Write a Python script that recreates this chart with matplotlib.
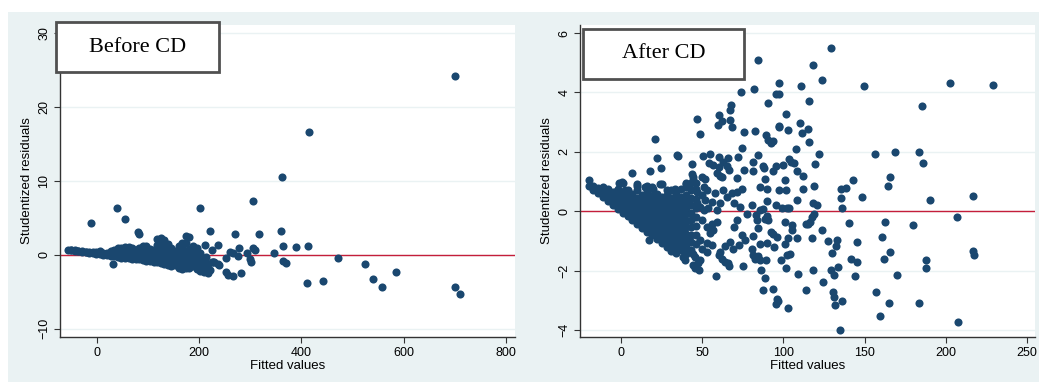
import numpy as np
import matplotlib.pyplot as plt
from matplotlib.patches import Rectangle

# *=*=* Data *=*=*
left_ticks_x = [0, 200, 400, 600, 800]
left_ticks_y = [-10, 0, 10, 20, 30]
right_ticks_x = [0, 50, 100, 150, 200, 250]
right_ticks_y = [-4, -2, 0, 2, 4, 6]

# Before CD: scattered points (fitted, studentized residual)
left_pts = [(700, 24.2), (416, 16.6), (362, 10.6), (306, 7.25), (201, 6.3), (40, 6.35), (55, 4.86),
            (-12, 4.28), (80, 3.1), (83, 2.8), (221, 3.3), (271, 2.84), (317, 2.84), (361, 3.2),
            (212, 1.4), (238, 1.35), (225, 0.72), (261, 0.45), (266, 0.23), (278, 0.9), (293, 0.22),
            (305, 0.9), (310, 0.72), (277, -0.18), (252, -0.45), (300, -0.54), (302, -0.9), (347, 0.22),
            (365, 1.17), (390, 1.13), (414, 1.2), (364, -0.77), (371, -1.08), (472, -0.4), (253, -2.34),
            (257, -2.66), (266, -2.88), (283, -2.43), (411, -3.83), (443, -3.56), (227, -1.0), (237, -1.2),
            (213, -0.3), (211, -1.0), (214, -1.9), (221, -2.1), (201, -1.45), (207, -2.1), (525, -1.2),
            (541, -3.2), (558, -4.3), (586, -2.3), (700, -4.4), (710, -5.3), (31, -1.26), (239, -1.3),
            (230, -1.0)]

# Before CD: dense band, read column by column (fitted, [residuals])
left_band = [(-57, [0.7]), (-50, [0.62, 0.7]), (-43, [0.55, 0.65]), (-36, [0.48, 0.58]),
             (-29, [0.4, 0.5]), (-22, [0.33, 0.45]), (-15, [0.27, 0.4]), (-8, [0.2, 0.4]),
             (-1, [0.13, 0.35]), (6, [0.07, 0.3, 0.5]), (13, [0.0, 0.3]), (20, [-0.05, 0.25]),
             (27, [-0.1, 0.2, 0.5]), (34, [-0.2, 0.2, 0.6]), (41, [-0.3, 0.1, 0.5, 0.9]),
             (48, [-0.35, 0.05, 0.45, 0.9]), (55, [-0.4, 0.0, 0.4, 0.8, 1.1]),
             (62, [-0.45, -0.05, 0.35, 0.75, 1.1]), (69, [-0.5, -0.1, 0.3, 0.7, 1.0]),
             (76, [-0.55, -0.15, 0.25, 0.65]), (83, [-0.6, -0.2, 0.2, 0.6, 1.0]),
             (90, [-0.7, -0.3, 0.1, 0.5, 0.9, 1.2]), (97, [-0.8, -0.4, 0.0, 0.4, 0.8, 1.2]),
             (104, [-0.85, -0.45, -0.05, 0.35, 0.75]), (111, [-0.9, -0.5, -0.1, 0.3, 0.7]),
             (118, [-1.0, -0.6, -0.2, 0.2, 0.6, 1.0, 1.4, 2.1]),
             (125, [-1.1, -0.7, -0.3, 0.1, 0.5, 0.9, 1.4, 2.3]),
             (132, [-1.2, -0.8, -0.4, 0.0, 0.4, 0.8, 1.2, 2.0]),
             (139, [-1.4, -1.0, -0.5, -0.1, 0.3, 0.7, 1.5]),
             (146, [-1.5, -1.1, -0.6, -0.2, 0.2, 0.6, 1.0]), (153, [-1.3, -0.8, -0.3, 0.1, 0.5]),
             (160, [-1.8, -1.0, -0.4, 0.0, 0.6, 1.2]), (167, [-1.9, -1.4, -0.6, 0.2, 1.0, 1.6]),
             (174, [-1.8, -1.2, -0.5, 0.4, 1.6, 2.6]), (181, [-1.7, -1.0, -0.2, 0.8, 2.4]),
             (188, [-1.5, -0.6, 0.3, 1.2]), (195, [-1.9, -1.2, -0.3, 1.0]), (202, [-2.2, -0.8, 0.2]),
             (210, [-2.3, -1.5, -0.5]), (218, [-2.4, -1.2]), (226, [-0.9])]

# After CD: scattered points
right_pts = [(129.3, 5.51), (84.5, 5.09), (118, 4.93), (124, 4.42), (97, 4.31), (110.8, 4.22), (149.8, 4.21),
             (202.6, 4.33), (229.1, 4.24), (73.6, 4.02), (82, 4.1), (95.4, 3.93), (97.2, 3.93), (116, 3.72),
             (90.6, 3.63), (67.6, 3.56), (66.8, 3.4), (185.4, 3.53), (60.2, 3.25), (101.5, 3.27), (46.6, 3.11),
             (66.8, 3.07), (61.9, 3.04), (59.8, 2.89), (68.6, 2.84), (110, 2.96), (97, 2.87), (97, 2.82),
             (115.3, 2.78), (103, 2.73), (75.8, 2.66), (82.8, 2.69), (111.4, 2.64), (48.9, 2.6), (89.2, 2.57),
             (20.8, 2.44), (90.8, 2.39), (92.3, 2.3), (93.9, 2.35), (116, 2.33), (74.4, 2.12), (107.5, 2.09),
             (121.9, 1.93), (156.2, 1.93), (168.5, 1.98), (183.7, 1.99), (186.2, 1.63), (34.7, 1.88),
             (35.3, 1.87), (22, 1.78), (50.6, 1.85), (54.5, 1.91), (72.1, 1.83), (65.9, 1.79), (84.5, 1.89),
             (60.4, 1.83), (103.2, 1.76), (81.4, 1.64), (87.5, 1.53), (88, 1.46), (99.7, 1.55), (95.5, 1.52),
             (104.5, 1.64), (106.6, 1.63), (119.2, 1.58), (43.4, 1.58), (54, 1.61), (56.5, 1.54), (62.7, 1.65),
             (60.6, 1.49), (65.1, 1.53), (66.2, 1.4), (24.9, 1.46), (59, 1.29), (76, 1.38), (81.2, 1.36),
             (93.5, 1.36), (108.5, 1.34), (111.8, 1.18), (165.4, 1.15), (142.6, 1.04), (17.7, 1.35), (6.6, 1.3),
             (43.6, 1.26), (44.4, 1.16), (50.1, 1.16), (52, 1.07), (61, 1.2), (62, 1.15), (71.3, 1.13),
             (88.8, 1.08), (101.1, 1.04), (164.6, 0.83), (135.6, 0.76), (138.5, 0.79), (112.2, 0.74),
             (118.6, 0.84), (85.7, 0.81), (90, 0.73), (97.6, 0.7), (101.5, 0.7), (74.8, 0.74), (71.7, 0.65),
             (216.6, 0.52), (148.4, 0.46), (135.6, 0.44), (190.3, 0.36), (108.5, 0.36), (89.8, 0.35),
             (80.6, 0.21), (118.1, 0.28), (120.4, 0.21), (95.4, 0.22), (98.9, 0.12), (102.1, 0.12),
             (103.3, 0.12), (136.4, 0.12), (69.3, 0.26), (73.4, 0.15), (85.3, 0.03), (87.3, 0.06),
             (77.5, -0.08), (83.2, -0.13), (89.8, -0.17), (118.6, -0.08), (117.8, -0.21), (116.5, -0.36),
             (114.9, -0.44), (113.8, -0.42), (207.1, -0.19), (140.6, -0.39), (162.6, -0.36), (180, -0.47),
             (100.9, -0.37), (105, -0.46), (105, -0.62), (83.6, -0.31), (84.3, -0.56), (88.8, -0.25),
             (90.3, -0.3), (71.3, -0.3), (69.3, -0.53), (123.8, -0.62), (92.1, -0.69), (93.3, -0.78),
             (96.2, -0.87), (102.7, -0.89), (108.5, -0.89), (117.8, -0.92), (160.9, -0.87), (81.4, -0.85),
             (74.4, -0.8), (76.2, -0.96), (66.8, -1.03), (72.8, -1.15), (127.2, -1.01), (133, -0.96),
             (145.5, -1.04), (132.1, -1.16), (85.7, -1.12), (90, -1.09), (100.7, -1.12), (94.3, -1.21),
             (63.9, -1.18), (68.9, -1.27), (80.7, -1.27), (129.7, -1.4), (165.4, -1.37), (216.6, -1.35),
             (217.2, -1.48), (102.1, -1.47), (104, -1.45), (61, -1.37), (60.2, -1.49), (81.4, -1.48),
             (84.3, -1.52), (61.9, -1.61), (85.7, -1.65), (89, -1.64), (82.6, -1.61), (98.6, -1.65),
             (141.8, -1.61), (145.3, -1.7), (161.9, -1.62), (187.8, -1.65), (65.8, -1.74), (66.2, -1.84),
             (75.2, -1.84), (63.9, -1.7), (118.4, -1.97), (133.7, -1.89), (129.3, -1.99), (188, -1.93),
             (101.7, -1.92), (86.3, -1.99), (131.1, -2.16), (170.2, -2.15), (144.4, -2.18), (108.7, -2.12),
             (88.8, -2.24), (58.4, -2.2), (124.1, -2.4), (93.7, -2.62), (87.7, -2.64), (113.8, -2.67),
             (157.2, -2.73), (130.3, -2.74), (130.9, -2.89), (96.2, -2.96), (96.8, -3.02), (95.4, -3.13),
             (103, -3.26), (131.7, -3.17), (136, -3.03), (165.2, -3.08), (183.5, -3.1), (159.3, -3.54),
             (207.4, -3.75), (135, -3.99),
             (40, 0.96), (44.2, 1.04), (46, 0.96), (50.8, 0.82), (52.8, 0.71), (46.6, 0.65), (49.8, 0.54),
             (51.8, 0.37), (46.6, 0.26), (48.7, 0.15), (50.8, 0.03), (53.8, 0.12), (59, 0.03), (61, 0.26),
             (55.9, 0.31), (65.1, 0.48), (57.9, 0.6), (63.1, 0.71), (68.2, 0.6), (49.7, -0.3), (52.8, -0.53),
             (55.9, -0.42), (59, -0.36), (54.9, -0.75), (56.9, -0.64), (48.7, -0.98), (52.8, -1.09),
             (55.9, -1.15), (49.7, -1.26), (52.8, -1.37), (44.6, -1.43), (45.6, -1.54), (48.7, -1.65),
             (47.7, -1.76), (44.6, -1.82), (45.6, -1.93), (48.3, -1.97), (38.4, -1.54), (39.5, -1.65),
             (33.3, -1.31), (16.9, -0.98), (-1.4, 0.96), (0.4, 0.98), (9.7, 0.9), (14.8, 0.82),
             (19.9, 0.76), (24, 0.9), (28.2, 0.71), (33.3, 0.73), (39.9, 0.9), (-3.5, 0.65), (2.7, 0.71),
             (-9.5, 0.6)]

# After CD: dense triangle, read column by column
right_band = [(-20, [0.85, 1.05]), (-17, [0.72, 0.85]), (-14, [0.6, 0.78]), (-11, [0.47, 0.65, 0.8]),
              (-8, [0.34, 0.55, 0.75]), (-5, [0.2, 0.42, 0.64]), (-2, [0.08, 0.3, 0.52, 0.75]),
              (1, [-0.05, 0.17, 0.39, 0.6, 0.95]), (4, [-0.18, 0.04, 0.26, 0.48, 0.7]),
              (7, [-0.3, -0.08, 0.14, 0.36, 0.58]), (10, [-0.43, -0.21, 0.01, 0.23, 0.45, 0.7, 0.85]),
              (13, [-0.56, -0.34, -0.12, 0.1, 0.32, 0.54]),
              (16, [-0.69, -0.47, -0.25, -0.03, 0.19, 0.41, 0.63, 0.85]),
              (19, [-0.82, -0.6, -0.38, -0.16, 0.06, 0.28, 0.5, 0.8]),
              (22, [-0.95, -0.73, -0.51, -0.29, -0.07, 0.15, 0.37, 0.59]),
              (25, [-1.08, -0.86, -0.64, -0.42, -0.2, 0.02, 0.24, 0.46, 0.9]),
              (28, [-1.2, -0.98, -0.76, -0.54, -0.32, -0.1, 0.12, 0.34, 0.56]),
              (31, [-1.33, -1.11, -0.89, -0.67, -0.45, -0.23, -0.01, 0.21, 0.43, 0.7]),
              (34, [-1.4, -1.18, -0.96, -0.74, -0.52, -0.3, -0.08, 0.14, 0.36, 0.58]),
              (37, [-1.3, -1.08, -0.86, -0.64, -0.42, -0.2, 0.02, 0.24, 0.46, 0.75]),
              (40, [-1.45, -1.2, -0.98, -0.76, -0.54, -0.32, -0.1, 0.12, 0.34, 0.56, 0.8]),
              (43, [-1.3, -1.05, -0.8, -0.55, -0.3, -0.05, 0.2, 0.45, 0.7, 0.95]),
              (46, [-1.1, -0.8, -0.5, -0.2, 0.1, 0.4, 0.75])]


def to_xy(pts, band):
    xs = [p[0] for p in pts] + [c[0] for c in band for _ in c[1]]
    ys = [p[1] for p in pts] + [v for c in band for v in c[1]]
    return np.array(xs), np.array(ys)


# *=*=* Plot *=*=*
plt.rcParams['font.family'] = ['Liberation Sans', 'DejaVu Sans']
W, H = 1039, 382
fig = plt.figure(figsize=(W / 100, H / 100), dpi=100, facecolor='white')
# Stata-like light graph region, kept behind the axes
fig.patches.append(Rectangle((8 / W, 0), 1 - 8 / W, (H - 12) / H, transform=fig.transFigure,
                             facecolor='#EAF2F3', edgecolor='none', zorder=-10))

navy = '#1A476F'
panels = [
    dict(left=60, pts=left_pts, band=left_band, xlim=(-72, 818), ylim=(-11.1, 31.1),
         xt=left_ticks_x, yt=left_ticks_y, box=(56, 22, 219, 72), label='Before CD'),
    dict(left=580, pts=right_pts, band=right_band, xlim=(-25.3, 255), ylim=(-4.24, 6.27),
         xt=right_ticks_x, yt=right_ticks_y, box=(583, 29, 744, 79), label='After CD'),
]

for p in panels:
    ax = fig.add_axes([p['left'] / W, (H - 337) / H, 455 / W, 312 / H])
    ax.set_facecolor('white')
    x, y = to_xy(p['pts'], p['band'])
    ax.axhline(0, color='#C41E3A', linewidth=1, zorder=1)
    ax.scatter(x, y, s=34, color=navy, linewidths=0, zorder=2)
    ax.set_xlim(p['xlim'])
    ax.set_ylim(p['ylim'])
    ax.set_xticks(p['xt'])
    ax.set_yticks(p['yt'])
    ax.grid(axis='y', color='#EAF2F3', linewidth=1, zorder=0)
    ax.set_axisbelow(True)
    for s in ['top', 'right']:
        ax.spines[s].set_visible(False)
    for s in ['left', 'bottom']:
        ax.spines[s].set_color('#333333')
        ax.spines[s].set_linewidth(1)
    ax.tick_params(length=4, width=0.8, color='#333333', labelsize=9, pad=3)
    for lab in ax.get_yticklabels():
        lab.set_rotation(90)
        lab.set_va('center')
    ax.set_xlabel('Fitted values', fontsize=9.5, labelpad=1)
    ax.set_ylabel('Studentized residuals', fontsize=9.5, labelpad=4)

    x0, y0, x1, y1 = p['box']
    fig.patches.append(Rectangle((x0 / W, 1 - y1 / H), (x1 - x0) / W, (y1 - y0) / H,
                                 transform=fig.transFigure, facecolor='white',
                                 edgecolor='#505050', linewidth=2, zorder=5))
    fig.text((x0 + x1) / 2 / W, 1 - (y0 + y1) / 2 / H, p['label'], ha='center', va='center',
             fontsize=16, family='Liberation Serif', zorder=6)

fig.savefig('out.png', dpi=100, facecolor='white')
